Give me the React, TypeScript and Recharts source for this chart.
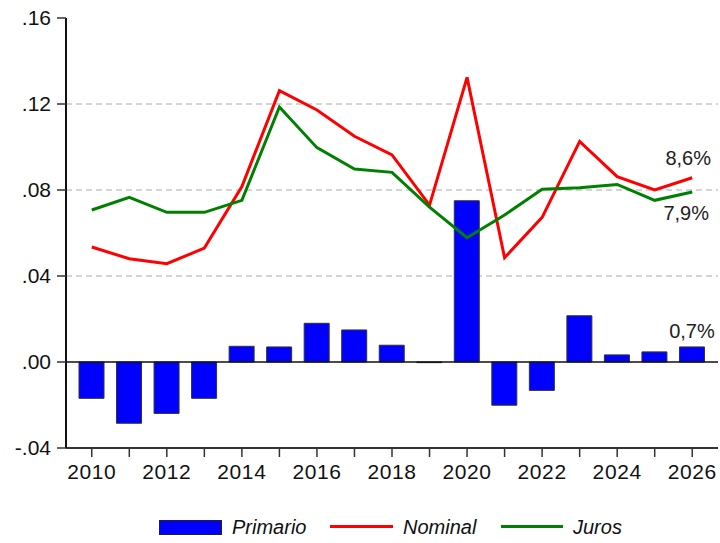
import { Bar, ComposedChart, Line, XAxis, YAxis, CartesianGrid, ReferenceLine, LabelList } from "recharts";

const YEARS = ["2010", "2011", "2012", "2013", "2014", "2015", "2016", "2017", "2018", "2019", "2020", "2021", "2022", "2023", "2024", "2025", "2026"];
const PRIMARIO = [-0.0169, -0.0285, -0.0239, -0.0169, 0.0073, 0.007, 0.018, 0.0149, 0.0078, -0.0003, 0.075, -0.0201, -0.0132, 0.0215, 0.0033, 0.0047, 0.007];
const NOMINAL = [0.0535, 0.048, 0.0457, 0.053, 0.0816, 0.1262, 0.1172, 0.105, 0.0963, 0.073, 0.1324, 0.0485, 0.0673, 0.1026, 0.0862, 0.08, 0.0857];
const JUROS = [0.0707, 0.0766, 0.0696, 0.0696, 0.0752, 0.1186, 0.0997, 0.0898, 0.0882, 0.072, 0.0578, 0.0684, 0.0803, 0.081, 0.0826, 0.0752, 0.0791];
const Y_TICKS = [-0.04, 0, 0.04, 0.08, 0.12, 0.16];
const GRID_VALUES = [0.04, 0.08, 0.12];

const FONT = "'Liberation Sans', Arial, sans-serif";

const data = YEARS.map((year, i) => ({
  year,
  primario: PRIMARIO[i],
  nominal: NOMINAL[i],
  juros: JUROS[i],
}));

const fmtY = (v: number) => {
  const s = v.toFixed(2);
  return s.replace("0.", ".");
};

const pct = (v: number) => (v * 100).toFixed(1).replace(".", ",") + "%";

const lastLabel = (dy: number, dx = 0) => (props: any) => {
  const { x, y, width, index, value } = props;
  if (index !== data.length - 1) return null;
  const cx = width ? x + width / 2 : x;
  return (
    <text x={cx + dx} y={y + dy} textAnchor="middle" fontSize={20} fontFamily={FONT} fill="#222">
      {pct(value)}
    </text>
  );
};

const XTick = (props: any) => {
  const { x, y, payload } = props;
  if (Number(payload.value) % 2 !== 0) return null;
  return (
    <text x={x} y={y + 20} textAnchor="middle" fontSize={21} fontFamily={FONT} fill="#111" letterSpacing={0.6}>
      {payload.value}
    </text>
  );
};

const LegendRow = () => (
  <div style={{ position: "absolute", left: 0, top: 516, width: 720, height: 24, fontFamily: FONT, fontSize: 20, fontStyle: "italic", color: "#111" }}>
    <div style={{ position: "absolute", left: 159, top: 4, width: 61, height: 13, background: "#0000FF", border: "1px solid #222" }} />
    <span style={{ position: "absolute", left: 232, top: 0 }}>Primario</span>
    <div style={{ position: "absolute", left: 330, top: 9, width: 63, height: 3, background: "#FF0000" }} />
    <span style={{ position: "absolute", left: 403, top: 0 }}>Nominal</span>
    <div style={{ position: "absolute", left: 501, top: 9, width: 62, height: 3, background: "#008000" }} />
    <span style={{ position: "absolute", left: 573, top: 0 }}>Juros</span>
  </div>
);

export default function App() {
  return (
    <div style={{ position: "absolute", left: 0, top: 0, width: 720, height: 543, background: "#fff" }}>
      <ComposedChart width={720} height={490} data={data} margin={{ top: 18, right: 2, bottom: 0, left: 0 }}>
        <CartesianGrid horizontal vertical={false} horizontalValues={GRID_VALUES} stroke="#aaa" strokeDasharray="6 4" />
        <XAxis
          dataKey="year"
          interval={0}
          height={42}
          padding={{ left: 7, right: 7 }}
          tickSize={9}
          tick={<XTick />}
          axisLine={{ stroke: "#333", strokeWidth: 2 }}
          tickLine={{ stroke: "#333", strokeWidth: 1.5 }}
        />
        <YAxis
          domain={[-0.04, 0.16]}
          ticks={Y_TICKS}
          tickFormatter={fmtY}
          width={66}
          tickSize={9}
          tickMargin={6}
          tick={{ fontSize: 21, fontFamily: FONT, fill: "#111" }}
          axisLine={{ stroke: "#111", strokeWidth: 2 }}
          tickLine={{ stroke: "#333", strokeWidth: 1.5 }}
        />
        <ReferenceLine y={0} stroke="#111" strokeWidth={1.5} />
        <Bar dataKey="primario" barSize={25} fill="#0000FF" stroke="#333" strokeWidth={1} isAnimationActive={false}>
          <LabelList dataKey="primario" content={lastLabel(-9)} />
        </Bar>
        <Line dataKey="nominal" stroke="#FF0000" strokeWidth={3} dot={false} isAnimationActive={false}>
          <LabelList dataKey="nominal" content={lastLabel(-13, -4)} />
        </Line>
        <Line dataKey="juros" stroke="#008000" strokeWidth={3} dot={false} isAnimationActive={false}>
          <LabelList dataKey="juros" content={lastLabel(28, -6)} />
        </Line>
      </ComposedChart>
      <LegendRow />
    </div>
  );
}
